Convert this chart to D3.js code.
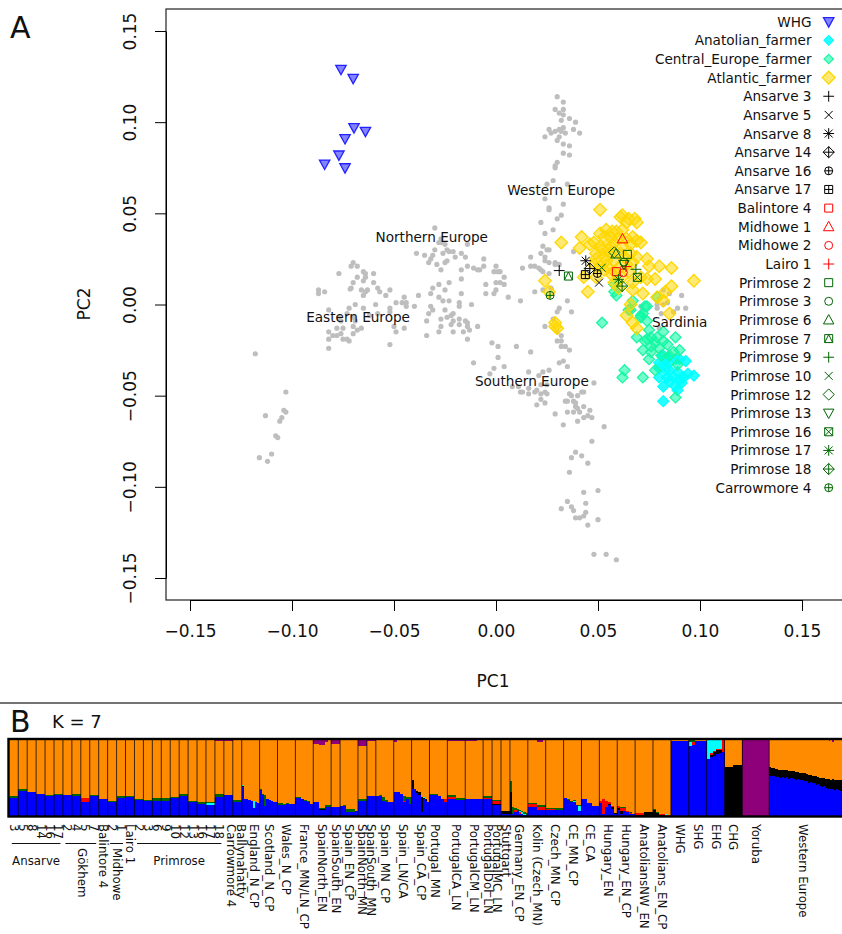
<!DOCTYPE html>
<html>
<head>
<meta charset="utf-8">
<script src="https://cdn.jsdelivr.net/npm/d3@7"></script>
<style>
  html, body { margin: 0; padding: 0; background: #fff; }
  svg { display: block; font-family: "DejaVu Sans", sans-serif; }
</style>
</head>
<body>
<svg id="chart" width="842" height="934"></svg>
<script>
// ---- panel A: PCA values ----
const greyNorth = [[-0.030,0.042],[-0.027,0.036],[-0.028,0.034],[-0.027,0.034],[-0.025,0.033],[-0.024,0.030],[-0.023,0.029],[-0.021,0.029],[-0.030,0.030],[-0.039,0.028],[-0.035,0.027],[-0.031,0.027],[-0.032,0.025],[-0.033,0.023],[-0.026,0.028],[-0.024,0.024],[-0.025,0.023],[-0.029,0.022],[-0.027,0.019],[-0.020,0.026],[-0.017,0.028],[-0.015,0.026],[-0.014,0.033],[-0.017,0.019],[-0.014,0.021],[-0.011,0.020],[-0.009,0.019],[-0.008,0.019],[-0.006,0.021],[-0.006,0.025],[0,0.021],[-0.001,0.018],[0.001,0.018]];
const greyCentre = [[-0.017,0.014],[-0.023,0.012],[-0.028,0.011],[-0.031,0.009],[-0.032,0.006],[-0.025,0.008],[-0.017,0.006],[-0.028,0.004],[-0.026,0.002],[-0.023,0.002],[-0.018,0.001],[-0.018,-0.001],[-0.012,0],[-0.032,-0.001],[-0.031,-0.003],[-0.033,-0.005],[-0.025,-0.003],[-0.021,-0.005],[-0.022,-0.006],[-0.027,-0.008],[-0.024,-0.007],[-0.018,-0.008],[-0.015,-0.009],[-0.014,-0.010],[-0.014,-0.012],[-0.009,-0.012],[-0.034,-0.009],[-0.021,-0.009],[-0.022,-0.011],[-0.018,-0.011],[-0.027,-0.012],[-0.028,-0.015],[-0.021,-0.015],[-0.016,-0.015],[-0.013,-0.014],[-0.034,-0.017],[-0.014,-0.019],[-0.005,0.011],[-0.005,0.006],[0,0.012],[0,0.008],[-0.001,0.006],[-0.002,-0.021],[0.001,-0.023],[-0.011,-0.032],[0.001,-0.029],[-0.001,-0.035]];
const greyEast = [[-0.077,0.017],[-0.070,0.023],[-0.071,0.021],[-0.068,0.021],[-0.065,0.018],[-0.064,0.017],[-0.060,0.017],[-0.068,0.015],[-0.064,0.015],[-0.065,0.013],[-0.060,0.012],[-0.070,0.012],[-0.071,0.009],[-0.0715,0.0085],[-0.063,0.008],[-0.064,0.007],[-0.066,0.008],[-0.065,0.005],[-0.058,0.009],[-0.057,0.007],[-0.052,0.008],[-0.054,0.005],[-0.087,0.008],[-0.087,0.006],[-0.084,0.007],[-0.045,0.004],[-0.038,0.005],[-0.049,0.001],[-0.046,0.001],[-0.044,0.001],[-0.044,-0.001],[-0.040,-0.001],[-0.059,0],[-0.052,-0.002],[-0.052,-0.004],[-0.069,0],[-0.072,-0.002],[-0.065,-0.002],[-0.082,-0.003],[-0.073,-0.005],[-0.076,-0.009],[-0.069,-0.009],[-0.058,-0.005],[-0.050,-0.012],[-0.049,-0.015],[-0.045,-0.013],[-0.070,-0.012],[-0.066,-0.013],[-0.068,-0.014],[-0.070,-0.016],[-0.078,-0.013],[-0.075,-0.013],[-0.082,-0.015],[-0.080,-0.017],[-0.078,-0.017],[-0.076,-0.016],[-0.075,-0.019],[-0.073,-0.019],[-0.072,-0.020],[-0.082,-0.019],[-0.082,-0.024],[-0.052,-0.022],[-0.118,-0.027],[-0.077,-0.007],[-0.070,-0.007],[-0.062,-0.006]];
const greyFarLeft = [[-0.103,-0.048],[-0.104,-0.058],[-0.103,-0.059],[-0.105,-0.062],[-0.106,-0.064],[-0.108,-0.072],[-0.113,-0.061],[-0.116,-0.084],[-0.112,-0.086],[-0.110,-0.082],[-0.107,-0.073]];
const greyWest = [[0.030,0.114],[0.033,0.111],[0.033,0.107],[0.029,0.107],[0.031,0.105],[0.033,0.104],[0.036,0.102],[0.039,0.100],[0.032,0.101],[0.038,0.096],[0.041,0.094],[0.026,0.096],[0.029,0.095],[0.027,0.094],[0.024,0.092],[0.031,0.096],[0.033,0.097],[0.032,0.095],[0.034,0.094],[0.031,0.092],[0.030,0.090],[0.033,0.088],[0.036,0.087],[0.033,0.083],[0.036,0.082],[0.030,0.078],[0.029,0.076],[0.029,0.075],[0.028,0.068],[0.025,0.066],[0.035,0.066],[0.024,0.058],[0.026,0.053],[0.026,0.052],[0.033,0.055],[0.022,0.045],[0.032,0.049],[0.030,0.047],[0.024,0.039],[0.028,0.041],[0.023,0.032],[0.025,0.030],[0.026,0.030],[0.022,0.028],[0.038,0.029],[0.017,0.026],[0.024,0.026],[0.013,0.020],[0.017,0.021],[0.019,0.021],[0.021,0.020],[0.024,0.024],[0.026,0.023],[0.029,0.023],[0.029,0.022],[0.031,0.022],[0.022,0.019],[0.023,0.018],[0.026,0.017],[0.002,0.018],[0.004,0.015],[0.004,0.011],[0.002,0.012],[0.019,0.007],[0.006,0.004],[0.012,0.002],[0.023,0.008],[0.027,0.009],[0.035,0.002],[0.031,-0.002],[0.030,-0.004],[0.037,-0.004],[0.028,-0.008],[0.024,-0.012],[0.030,-0.015],[0.032,-0.017]];
const greySouth = [[0.010,-0.023],[0.017,-0.026],[0.004,-0.034],[-0.003,-0.038],[0.016,-0.037],[0.030,-0.020],[0.032,-0.020],[0.032,-0.023],[0.034,-0.023],[0.036,-0.025],[0.031,-0.032],[0.033,-0.031],[0.035,-0.034],[0.026,-0.036],[0.023,-0.037],[0.021,-0.039],[0.008,-0.045],[0.011,-0.045],[0.012,-0.048],[0.013,-0.048],[0.016,-0.046],[0.016,-0.049],[0.020,-0.047],[0.019,-0.048],[0.022,-0.049],[0.024,-0.048],[0.025,-0.049],[0.022,-0.052],[0.024,-0.054],[0.020,-0.055],[0.022,-0.044],[0.025,-0.044],[0.048,-0.043],[0.036,-0.049],[0.037,-0.050],[0.042,-0.048],[0.043,-0.048],[0.040,-0.050],[0.034,-0.053],[0.035,-0.053],[0.038,-0.053],[0.039,-0.054],[0.043,-0.056],[0.039,-0.056],[0.040,-0.057],[0.041,-0.059],[0.046,-0.058],[0.035,-0.059],[0.038,-0.059],[0.043,-0.062],[0.045,-0.061],[0.047,-0.062],[0.040,-0.064],[0.029,-0.060],[0.033,-0.066],[0.053,-0.067],[0.047,-0.075],[0.039,-0.081],[0.037,-0.084],[0.042,-0.083],[0.045,-0.087],[0.036,-0.092],[0.043,-0.103],[0.050,-0.102],[0.044,-0.109],[0.035,-0.108],[0.037,-0.111],[0.032,-0.112],[0.038,-0.113],[0.044,-0.114],[0.043,-0.116],[0.041,-0.117],[0.039,-0.117],[0.050,-0.118],[0.045,-0.121],[0.048,-0.137],[0.054,-0.137],[0.059,-0.140]];
const greySardinia = [[0.082,0.008],[0.091,0.005],[0.085,0.006],[0.080,0.003],[0.079,0],[0.082,0],[0.079,-0.002],[0.071,-0.001],[0.093,-0.002],[0.089,-0.002],[0.087,-0.004],[0.084,0.001],[0.081,-0.005],[0.080,-0.013]];

const whgPoints = [[-0.076,0.129],[-0.070,0.124],[-0.0696,0.097],[-0.064,0.095],[-0.074,0.091],[-0.077,0.082],[-0.084,0.077],[-0.074,0.075]];
const anatolianPoints = [[0.080,-0.040],[0.082,-0.045],[0.082,-0.053],[0.088,-0.045],[0.097,-0.039],[0.094,-0.038],[0.093,-0.031],[0.090,-0.041],[0.091,-0.043],[0.084,-0.040],[0.087,-0.040],[0.083,-0.036],[0.085,-0.036],[0.089,-0.037],[0.080,-0.032],[0.083,-0.031],[0.080,-0.035],[0.085,-0.032],[0.088,-0.030],[0.090,-0.030],[0.082,-0.028],[0.085,-0.042],[0.089,-0.047],[0.092,-0.040],[0.084,-0.029]];
const centralPoints = [[0.059,0.005],[0.052,-0.010],[0.079,0.004],[0.066,-0.003],[0.074,-0.001],[0.072,-0.005],[0.071,-0.007],[0.074,-0.009],[0.075,-0.014],[0.082,-0.015],[0.088,-0.018],[0.069,-0.018],[0.073,-0.020],[0.076,-0.018],[0.079,-0.018],[0.082,-0.020],[0.072,-0.025],[0.076,-0.023],[0.078,-0.021],[0.080,-0.024],[0.076,-0.026],[0.081,-0.028],[0.075,-0.030],[0.084,-0.022],[0.087,-0.026],[0.090,-0.025],[0.085,-0.028],[0.089,-0.033],[0.078,-0.036],[0.063,-0.036],[0.062,-0.040],[0.072,-0.040],[0.088,-0.051],[0.074,-0.019],[0.058,0.007],[0.058,0.011],[0.067,0.002],[0.065,-0.003],[0.073,-0.001],[0.071,-0.006]];
const atlanticPoints = [[0.051,0.052],[0.062,0.049],[0.061,0.048],[0.065,0.047],[0.064,0.045],[0.069,0.045],[0.068,0.047],[0.042,0.037],[0.032,0.034],[0.041,0.031],[0.048,0.034],[0.046,0.033],[0.051,0.039],[0.054,0.041],[0.057,0.040],[0.062,0.041],[0.059,0.040],[0.053,0.037],[0.056,0.037],[0.067,0.037],[0.069,0.035],[0.071,0.034],[0.058,0.034],[0.062,0.032],[0.066,0.033],[0.056,0.032],[0.051,0.032],[0.049,0.028],[0.049,0.025],[0.048,0.022],[0.051,0.021],[0.049,0.015],[0.053,0.026],[0.053,0.019],[0.054,0.024],[0.058,0.024],[0.066,0.028],[0.067,0.023],[0.069,0.026],[0.074,0.025],[0.075,0.021],[0.080,0.021],[0.086,0.020],[0.097,0.013],[0.078,0.014],[0.074,0.014],[0.071,0.015],[0.067,0.012],[0.067,0.008],[0.072,0.006],[0.086,0.010],[0.083,0.007],[0.082,0.002],[0.085,-0.005],[0.024,0.013],[0.026,0.007],[0.045,0.007],[0.043,0.015],[0.064,-0.006],[0.060,0.009],[0.058,0.012],[0.058,0.018],[0.064,0.022],[0.061,0.028],[0.063,0.026],[0.056,0.028],[0.054,0.021],[0.055,0.030],[0.060,0.036],[0.060,0.020],[0.065,0.018],[0.057,0.016],[0.062,0.015],[0.064,0.036],[0.052,0.030],[0.029,-0.010],[0.029,-0.012],[0.030,-0.013],[0.066,0],[0.069,-0.013],[0.067,-0.010],[0.079,0.004]];

const sampleNames = ['Ansarve 3','Ansarve 5','Ansarve 8','Ansarve 14','Ansarve 16','Ansarve 17','Balintore 4','Midhowe 1','Midhowe 2','Lairo 1','Primrose 2','Primrose 3','Primrose 6','Primrose 7','Primrose 9','Primrose 10','Primrose 12','Primrose 13','Primrose 16','Primrose 17','Primrose 18','Carrowmore 4'];
const samplePC1 = [0.031,0.0505,0.044,0.046,0.0497,0.0438,0.059,0.062,0.0624,0.0637,0.0644,0.0627,0.0588,0.0355,0.0686,0.0518,0.058,0.0627,0.0693,0.060,0.0618,0.0265];
const samplePC2 = [0.0186,0.012,0.024,0.0197,0.017,0.0164,0.018,0.036,0.0175,0.0208,0.0275,0.0233,0.0277,0.0156,0.0193,0.0202,0.0286,0.022,0.0149,0.0138,0.0101,0.005];

const regionNames = ['Western Europe','Northern Europe','Eastern Europe','Southern Europe','Sardinia'];
const regionPC1 = [0.032,-0.0315,-0.0676,0.0176,0.090];
const regionPC2 = [0.063,0.037,-0.0069,-0.042,-0.0096];

const pcTicks = [-0.15,-0.10,-0.05,0,0.05,0.10,0.15];

// ---- panel B: ancestry shares in percent ----
const singleNames = ['3','5','8','14','16','17','2','4','5','7','Balintore 4','2','1','Lairo 1','2','3','6','9','10','12','13','16','17','18','Carrowmore 4','Ballynahatty'];
const singleBlue = [23.3,33,31,28.6,26.4,27.8,27.3,26.4,18,26,22.5,18,23.8,24.7,20.7,19.4,20.3,20.3,23.8,26.4,19,16,14.5,25.5,27,18];
const singleGreen = [2.5,2,1,0.4,1.3,0.5,0.5,2.5,1,1,0.4,2,2,1,1.7,1.3,3,3,1.2,2.5,0.8,3,1,4,1,3.5];
const singleRed = [0,0,0,0,0,0,0,0,5.3,0,0,0,0,0,0,0,0,0,0,0,0,0,0,0,0,0];
const singleCyan = [0,0,0,0,0,0,0,0,0,0,0,0,0,0,0,0,0,0,0,0,0,0,2.5,0,0,0];
const singlePurple = [0,0,0,0,0,0,0,0,0,0,0,0,0,0,0,0,0,0,0,0,0,0,0,1.5,1.5,0];

const groupNames = ['England_N_CP','Scotland_N_CP','Wales_N_CP','France_MN/LN_CP','SpainNorth_EN','SpainSouth_EN','Spain_EN_CP','SpainNorth_MN','SpainSouth_MN','Spain_MN_CP','Spain_LN/CA','Spain_CA_CP','Portugal_MN','PortugalCA_LN','PortugalCM_LN','PortugalDol_LN','PortugalMC_LN','Stuttgart','Germany_EN_CP','Kolin (Czech_MN)','Czech_MN_CP','CE_MN_CP','CE_CA','Hungary_EN','Hungary_EN_CP','AnatoliansNW_EN','Anatolians_EN_CP','WHG','SHG','EHG','CHG','Yoruba','Western Europe'];
const groupUnits = [2,2,2,2,2,1,2,1,1,2,2,2,2,2,2,1,1,1,2,2,2,2,2,2,2,2,2,2,2,2,2,3,8.3];

const blueShare = {
  'England_N_CP': [38,23,23,21,20,11,18,17],
  'Scotland_N_CP': [34,28,13,22,21,20,19,18],
  'Wales_N_CP': [15,15,15,16,16,16],
  'France_MN/LN_CP': [24,24,22,20,18,16],
  'SpainNorth_EN': [19,19,8,8,12,12],
  'SpainSouth_EN': [11.5],
  'Spain_EN_CP': [13,13,5,5,5,6],
  'SpainNorth_MN': [20],
  'SpainSouth_MN': [26.4],
  'Spain_MN_CP': [26,26,20,19,18,18],
  'Spain_LN/CA': [31,31,29,18,23,16],
  'Spain_CA_CP': [36,36,30,28,5,22,20,18],
  'Portugal_MN': [27,27,28,26,23,18],
  'PortugalCA_LN': [23,23,23,21,21,21],
  'PortugalCM_LN': [23,23,23],
  'PortugalDol_LN': [23],
  'PortugalMC_LN': [14.5],
  'Stuttgart': [2],
  'Germany_EN_CP': [2,3,5,6,2,3,1,1],
  'Kolin (Czech_MN)': [12,12,12,8,8,8],
  'Czech_MN_CP': [8,8,8,8],
  'CE_MN_CP': [24,21,19,19,14,7],
  'CE_CA': [22,22,17,17,13,13,13],
  'Hungary_EN': [17,2,12,14,9,3],
  'Hungary_EN_CP': [8,3,6,5,3,2],
  'AnatoliansNW_EN': [0,0,0,0,0,0],
  'Anatolians_EN_CP': [0,0,0,0,0,0],
  'WHG': [99,99],
  'SHG': [92,93,99,99,99,99],
  'EHG': [75,77,79,81,83,84],
  'CHG': [0,0],
  'Yoruba': [0],
  'Western Europe': [53,52,53,51,52,51,50,51,50,51,49,50,50,49,48,49,48,47,48,46,46,44,45,43,44,41,42,40,38,39,37,35,37,35,36,34,36,34,33,35]
};
const blackShare = {
  'England_N_CP': [2,0,0,0,0,0,0,0],
  'Spain_CA_CP': [12,0,3,3,20,2,2,0],
  'SpainNorth_EN': [0,0,1,1,0,0],
  'PortugalMC_LN': [1.5],
  'Stuttgart': [5],
  'Germany_EN_CP': [30,0,0,0,0,0,0,0],
  'Hungary_EN': [0,0,0,2,3,1],
  'Hungary_EN_CP': [2,3,0,0,0,0],
  'AnatoliansNW_EN': [1,1,1,5,5,5],
  'Anatolians_EN_CP': [8,4,1,1,0,0],
  'EHG': [0,3,5,6,4,0],
  'CHG': [65,67],
  'Western Europe': [12,11,10,11,10,10,11,10,10,9,10,9,9,10,10,9,9,9,8,10,9,10,9,10,9,11,9,10,12,11,12,14,12,13,13,14,12,14,15,12]
};
const redShare = {
  'Spain_EN_CP': [0,0,0,0,0,1],
  'Spain_LN/CA': [0,0,0,2,0,0],
  'Portugal_MN': [0,0,0,0,0,4],
  'PortugalCA_LN': [2,2,2,0,0,0],
  'PortugalDol_LN': [1],
  'PortugalMC_LN': [4],
  'Germany_EN_CP': [0,0,3,0,3,0,0,0],
  'Kolin (Czech_MN)': [4,4,4,4,4,4],
  'Czech_MN_CP': [1,1,0,0],
  'Hungary_EN': [3,20,8,2,1,0],
  'Hungary_EN_CP': [3,5,5,1,1,0],
  'AnatoliansNW_EN': [3,3,3,0,0,0],
  'Anatolians_EN_CP': [0,0,1,1,1,1],
  'SHG': [0,4,0,0,0,0],
  'EHG': [0,3,2,1,1,16]
};
const cyanShare = {
  'England_N_CP': [1,0,0,0,0,9,0,0],
  'Spain_CA_CP': [0,0,0,0,0,1,1,1],
  'Germany_EN_CP': [0,0,0,0,1,2,1,0],
  'CE_MN_CP': [0,0,0,1,0,6],
  'Anatolians_EN_CP': [0,0,0,1,1,0],
  'SHG': [5,0,0,0,0,0],
  'EHG': [25,17,14,12,12,0]
};
const greenShare = {
  'Scotland_N_CP': [1,1,15,1,0,0,0,0],
  'Wales_N_CP': [2,2,1,0.5,0,0],
  'France_MN/LN_CP': [0.5,0.5,1,1,2,0],
  'SpainNorth_EN': [0,0,2,1,3,3],
  'Spain_EN_CP': [0,1,4,4,4,0],
  'SpainNorth_MN': [2],
  'Spain_MN_CP': [0,1,5,2,1,0],
  'Spain_LN/CA': [0,0,0,6,2,9],
  'Portugal_MN': [2,2,1,0.5,0,0],
  'PortugalCA_LN': [2,2,2,3,3,3],
  'PortugalDol_LN': [2.5],
  'PortugalMC_LN': [0.5],
  'Germany_EN_CP': [14,9,3,3,2,2,3,3],
  'Kolin (Czech_MN)': [1,1,1,2,2,2],
  'Czech_MN_CP': [1,1,2,2],
  'CE_MN_CP': [0,1,1,1,0.5,1],
  'Hungary_EN_CP': [0,1,1,1,1,0],
  'Anatolians_EN_CP': [1,1,1,0,0,0],
  'SHG': [3,3,0,0,0,0]
};
const purpleShare = {
  'SpainNorth_EN': [5,5,6,6,2,0],
  'SpainSouth_EN': [5.5],
  'SpainNorth_MN': [7.5],
  'SpainSouth_MN': [0.7],
  'Spain_LN/CA': [3,0,0,0,0,0],
  'Portugal_MN': [0.5,0.5,0,0,0,0],
  'PortugalCA_LN': [1,1,1,1,1,1],
  'PortugalCM_LN': [1,1,0],
  'Kolin (Czech_MN)': [0,0,0,2,2,0],
  'Yoruba': [100],
  'Western Europe': [0,0,0,0,0,0,0,0,0,0,0,0,0,0,0,0,0,0,0,0,0,0,0,0,0,0,0,0,0,0,0,0,1,0,2,0,0,0,0,0]
};

// ---- colours and marker shapes ----
const BLACK = '#000', RED = '#ff0000', GREEN = '#006400';
const sampleShapes = ['plus','x','star','diamondPlus','circlePlus','squarePlus','square','tri','circle','plus','square','circle','tri','squareTri','plus','x','diamond','invTri','squareX','star','diamondPlus','circlePlus'];
const sampleColors = [BLACK,BLACK,BLACK,BLACK,BLACK,BLACK,RED,RED,RED,RED,GREEN,GREEN,GREEN,GREEN,GREEN,GREEN,GREEN,GREEN,GREEN,GREEN,GREEN,GREEN];
const ancestryKeys = ['blue','black','red','cyan','green','orange','purple'];
const ancestryColor = { blue: '#0000ff', black: '#000000', red: '#ff0000', cyan: '#00ffff', green: '#006400', orange: '#ff8c00', purple: '#8e0079' };

const markerPath = (shape, s) => {
  const p = d3.path();
  const parts = {
    plus: () => { p.moveTo(-s * 1.35, 0); p.lineTo(s * 1.35, 0); p.moveTo(0, -s * 1.35); p.lineTo(0, s * 1.35); },
    x: () => { p.moveTo(-s, -s); p.lineTo(s, s); p.moveTo(-s, s); p.lineTo(s, -s); },
    square: () => { p.rect(-s, -s, 2 * s, 2 * s); },
    circle: () => { p.moveTo(s, 0); p.arc(0, 0, s, 0, 2 * Math.PI); },
    tri: () => { p.moveTo(0, -s * 1.35); p.lineTo(s * 1.3, s); p.lineTo(-s * 1.3, s); p.closePath(); },
    invTri: () => { p.moveTo(0, s * 1.35); p.lineTo(s * 1.3, -s); p.lineTo(-s * 1.3, -s); p.closePath(); },
    diamond: () => { p.moveTo(0, -s * 1.4); p.lineTo(s * 1.4, 0); p.lineTo(0, s * 1.4); p.lineTo(-s * 1.4, 0); p.closePath(); },
    innerPlus: k => { p.moveTo(-s * k, 0); p.lineTo(s * k, 0); p.moveTo(0, -s * k); p.lineTo(0, s * k); }
  };
  const combos = {
    star: () => { parts.plus(); parts.x(); },
    diamondPlus: () => { parts.diamond(); parts.innerPlus(1.4); },
    circlePlus: () => { parts.circle(); parts.innerPlus(1); },
    squarePlus: () => { parts.square(); parts.innerPlus(1); },
    squareX: () => { parts.square(); parts.x(); },
    squareTri: () => { parts.square(); p.moveTo(0, -s); p.lineTo(s, s); p.moveTo(0, -s); p.lineTo(-s, s); }
  };
  (combos[shape] || parts[shape])();
  return p.toString();
};

const svg = d3.select('#chart');
const TEXT_COLOR = '#111';
const LABEL_SIZE = 13.6;
const BAR_LABEL_SIZE = 11.8;

// ---- panel A ----
const x = d3.scaleLinear().domain([-0.15, 0.15]).range([190, 802]);
const y = d3.scaleLinear().domain([-0.15, 0.15]).range([578, 31]);
const tickText = v => d3.format('.2f')(v).replace('-', '\u2212');

svg.append('rect')
  .attr('x', 166).attr('y', 9).attr('width', 720).attr('height', 591)
  .attr('fill', 'none').attr('stroke', '#222').attr('stroke-width', 1.2);

const xAxis = svg.append('g').attr('transform', 'translate(0,600)')
  .call(d3.axisBottom(x).tickValues(pcTicks).tickFormat(tickText).tickSizeInner(11).tickSizeOuter(0).tickPadding(14));
const yAxis = svg.append('g').attr('transform', 'translate(166,0)')
  .call(d3.axisLeft(y).tickValues(pcTicks).tickFormat(tickText).tickSizeInner(11).tickSizeOuter(0));
xAxis.selectAll('text').attr('font-size', 17).attr('font-family', '"DejaVu Sans"').attr('fill', TEXT_COLOR);
yAxis.selectAll('text')
  .attr('font-size', 17).attr('font-family', '"DejaVu Sans"').attr('fill', TEXT_COLOR)
  .attr('text-anchor', 'middle').attr('x', 0).attr('dy', 0)
  .attr('transform', 'translate(-36,0) rotate(-90)')
  .attr('dominant-baseline', 'central');

svg.append('text').attr('x', 493).attr('y', 687).attr('text-anchor', 'middle').attr('font-size', 17).attr('fill', TEXT_COLOR).text('PC1');
svg.append('text').attr('transform', 'translate(84,304) rotate(-90)').attr('text-anchor', 'middle').attr('dominant-baseline', 'central').attr('font-size', 17).attr('fill', TEXT_COLOR).text('PC2');
svg.append('text').attr('x', 10).attr('y', 38).attr('font-size', 30).attr('fill', TEXT_COLOR).text('A');

const greyPoints = [].concat(greyNorth, greyCentre, greyEast, greyFarLeft, greyWest, greySouth, greySardinia);
svg.append('g').selectAll('circle').data(greyPoints).join('circle')
  .attr('cx', d => x(d[0])).attr('cy', d => y(d[1])).attr('r', 2.6).attr('fill', '#bebebe');

const filledGroup = (points, shape, size, fill, stroke) => {
  svg.append('g').selectAll('path').data(points).join('path')
    .attr('transform', d => `translate(${x(d[0])},${y(d[1])})`)
    .attr('d', markerPath(shape, size))
    .attr('fill', fill).attr('stroke', stroke).attr('stroke-width', 1.3);
};
const whgStyle = ['invTri', 4, 'rgba(90,90,255,0.75)', '#2222ff'];
const anatolianStyle = ['diamond', 3.9, 'rgba(0,255,255,0.85)', '#00ffff'];
const centralStyle = ['diamond', 3.9, 'rgba(0,255,160,0.55)', '#1cf5a5'];
const atlanticStyle = ['diamond', 4.5, 'rgba(255,215,0,0.55)', '#ffd700'];
filledGroup(whgPoints, ...whgStyle);
filledGroup(anatolianPoints, ...anatolianStyle);
filledGroup(centralPoints, ...centralStyle);
filledGroup(atlanticPoints, ...atlanticStyle);

regionNames.forEach((name, i) => {
  svg.append('text').attr('x', x(regionPC1[i])).attr('y', y(regionPC2[i]))
    .attr('text-anchor', 'middle').attr('dominant-baseline', 'central')
    .attr('font-size', LABEL_SIZE).attr('fill', TEXT_COLOR).text(name);
});

const SAMPLE_SIZE = 4;
svg.append('g').selectAll('path').data(sampleNames).join('path')
  .attr('transform', (d, i) => `translate(${x(samplePC1[i])},${y(samplePC2[i])})`)
  .attr('d', (d, i) => markerPath(sampleShapes[i], SAMPLE_SIZE))
  .attr('fill', 'none').attr('stroke', (d, i) => sampleColors[i]).attr('stroke-width', 1);

// legend, one row per population
const legendNames = ['WHG','Anatolian_farmer','Central_Europe_farmer','Atlantic_farmer'].concat(sampleNames);
const legendStyles = [whgStyle, ['diamond', 3.3, anatolianStyle[2], anatolianStyle[3]], ['diamond', 3.3, centralStyle[2], centralStyle[3]], ['diamond', 4.6, atlanticStyle[2], atlanticStyle[3]]]
  .concat(sampleShapes.map((shape, i) => [shape, SAMPLE_SIZE, 'none', sampleColors[i]]));
const legendY = d3.scalePoint().domain(d3.range(legendNames.length)).range([21.7, 487.7]);
const legendRow = svg.append('g').selectAll('g').data(legendNames).join('g')
  .attr('transform', (d, i) => `translate(0,${legendY(i)})`);
legendRow.append('text').attr('x', 811.5).attr('text-anchor', 'end').attr('dominant-baseline', 'central')
  .attr('font-size', LABEL_SIZE).attr('fill', TEXT_COLOR).text(d => d);
legendRow.append('path')
  .attr('transform', 'translate(828.7,0)')
  .attr('d', (d, i) => markerPath(legendStyles[i][0], legendStyles[i][1]))
  .attr('fill', (d, i) => legendStyles[i][2]).attr('stroke', (d, i) => legendStyles[i][3])
  .attr('stroke-width', (d, i) => i < 4 ? 1.3 : 1);

// ---- panel B ----
svg.append('line').attr('x1', 0).attr('x2', 842).attr('y1', 703).attr('y2', 703).attr('stroke', '#444').attr('stroke-width', 1.4);
svg.append('text').attr('x', 10).attr('y', 732).attr('font-size', 30).attr('fill', TEXT_COLOR).text('B');
svg.append('text').attr('x', 52).attr('y', 728).attr('font-size', 18).attr('fill', TEXT_COLOR).text('K = 7');

const allGroups = [];
singleNames.forEach((name, i) => {
  allGroups.push({
    name, units: 1, blue: [singleBlue[i]], black: [0], red: [singleRed[i]], cyan: [singleCyan[i]],
    green: [singleGreen[i]], purple: [singlePurple[i]]
  });
});
groupNames.forEach((name, i) => {
  const blue = blueShare[name];
  const pick = table => table[name] || blue.map(() => 0);
  allGroups.push({
    name, units: groupUnits[i], blue, black: pick(blackShare), red: pick(redShare), cyan: pick(cyanShare),
    green: pick(greenShare), purple: pick(purpleShare)
  });
});

const totalUnits = d3.sum(allGroups, g => g.units);
const xUnit = d3.scaleLinear().domain([0, totalUnits]).range([9.3, 9.3 + totalUnits * 8.94]);
const yShare = d3.scaleLinear().domain([0, 100]).range([816, 740]);

// one row per sample, orange fills what is left
const sampleRows = [];
let unitPos = 0;
allGroups.forEach(g => {
  g.start = unitPos;
  const w = g.units / g.blue.length;
  g.blue.forEach((b, j) => {
    const used = b + g.black[j] + g.red[j] + g.cyan[j] + g.green[j] + g.purple[j];
    sampleRows.push({
      x0: unitPos + j * w, x1: unitPos + (j + 1) * w,
      blue: b, black: g.black[j], red: g.red[j], cyan: g.cyan[j], green: g.green[j],
      orange: Math.max(0, 100 - used), purple: g.purple[j]
    });
  });
  unitPos += g.units;
});

const stacked = d3.stack().keys(ancestryKeys)(sampleRows);
svg.append('g').attr('shape-rendering', 'crispEdges').selectAll('g').data(stacked).join('g')
  .attr('fill', d => ancestryColor[d.key])
  .selectAll('rect').data(d => d).join('rect')
  .attr('x', d => xUnit(d.data.x0))
  .attr('width', d => Math.max(0.5, xUnit(d.data.x1) - xUnit(d.data.x0)))
  .attr('y', d => yShare(d[1]))
  .attr('height', d => yShare(d[0]) - yShare(d[1]));

svg.append('g').selectAll('line').data(allGroups.slice(1)).join('line')
  .attr('x1', d => xUnit(d.start)).attr('x2', d => xUnit(d.start))
  .attr('y1', yShare(100)).attr('y2', yShare(0))
  .attr('stroke', '#000').attr('stroke-opacity', 0.75).attr('stroke-width', 1);

svg.append('rect').attr('x', 8.5).attr('y', 739).attr('width', 900).attr('height', 77.5)
  .attr('fill', 'none').attr('stroke', '#000').attr('stroke-width', 2.4);

// rotated labels under each bar
const labelNudge = { 24: 3, 25: 4, 26: 3, 38: -3, 43: 1, 58: -3 };
svg.append('g').selectAll('text').data(allGroups).join('text')
  .attr('transform', (d, i) => `translate(${xUnit(d.start + d.units / 2) + (labelNudge[i] || 0)},824) rotate(90)`)
  .attr('dominant-baseline', 'central')
  .attr('font-size', BAR_LABEL_SIZE).attr('fill', TEXT_COLOR).text(d => d.name);

// cohort brackets under the single bars
const bracketNames = ['Ansarve','G\u00f6khem','Midhowe','Primrose'];
const bracketFrom = [0,6,11,14];
const bracketTo = [6,10,13,24];
svg.append('g').selectAll('line').data(bracketNames).join('line')
  .attr('x1', (d, i) => xUnit(bracketFrom[i]) + 2.5).attr('x2', (d, i) => xUnit(bracketTo[i]) - 2.5)
  .attr('y1', 843.5).attr('y2', 843.5).attr('stroke', '#111').attr('stroke-width', 1);
svg.append('text').attr('x', xUnit(3)).attr('y', 865).attr('text-anchor', 'middle').attr('font-size', BAR_LABEL_SIZE).attr('fill', TEXT_COLOR).text('Ansarve');
svg.append('text').attr('x', xUnit(19)).attr('y', 865).attr('text-anchor', 'middle').attr('font-size', BAR_LABEL_SIZE).attr('fill', TEXT_COLOR).text('Primrose');
[1, 2].forEach(i => {
  svg.append('text')
    .attr('transform', `translate(${xUnit((bracketFrom[i] + bracketTo[i]) / 2) + (i === 1 ? 1 : 0)},848) rotate(90)`)
    .attr('dominant-baseline', 'central')
    .attr('font-size', BAR_LABEL_SIZE).attr('fill', TEXT_COLOR).text(bracketNames[i]);
});
</script>
</body>
</html>
